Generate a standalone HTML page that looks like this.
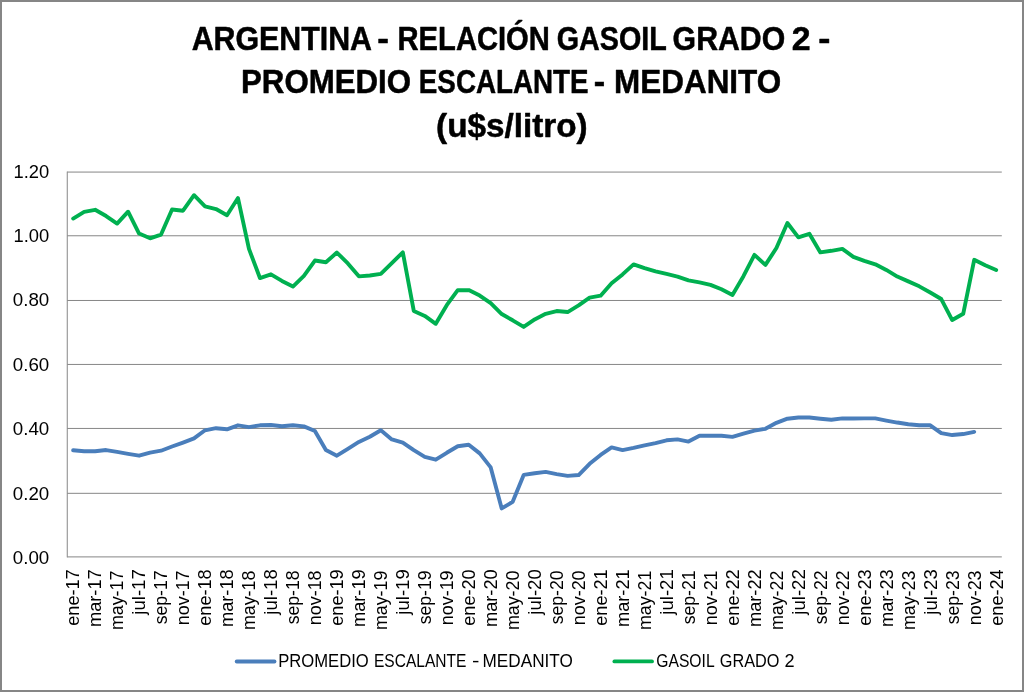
<!DOCTYPE html>
<html lang="es">
<head>
<meta charset="utf-8">
<title>ARGENTINA - RELACIÓN GASOIL GRADO 2 - PROMEDIO ESCALANTE - MEDANITO</title>
<style>
html,body{margin:0;padding:0;background:#fff;}
body{width:1024px;height:692px;overflow:hidden;}
svg{display:block;}
text{font-family:"Liberation Sans",sans-serif;fill:#000;}
.t{font-weight:bold;font-size:33.0px;stroke:#000;stroke-width:0.5px;stroke-linejoin:round;}
.a{font-size:17.7px;}
</style>
</head>
<body>
<svg width="1024" height="692" viewBox="0 0 1024 692">
<rect x="0" y="0" width="1024" height="692" fill="#fff"/>
<rect x="1" y="1" width="1022" height="690" fill="none" stroke="#868686" stroke-width="2"/>
<text class="t" id="t1" y="49.90"><tspan id="t1w0" x="191.63" textLength="179.30" lengthAdjust="spacingAndGlyphs">ARGENTINA</tspan> <tspan id="t1w1" x="377.38" textLength="11.69" lengthAdjust="spacingAndGlyphs">-</tspan> <tspan id="t1w2" x="397.55" textLength="152.33" lengthAdjust="spacingAndGlyphs">RELACIÓN</tspan> <tspan id="t1w3" x="556.81" textLength="109.51" lengthAdjust="spacingAndGlyphs">GASOIL</tspan> <tspan id="t1w4" x="672.61" textLength="112.55" lengthAdjust="spacingAndGlyphs">GRADO</tspan> <tspan id="t1w5" x="791.69" textLength="18.83" lengthAdjust="spacingAndGlyphs">2</tspan> <tspan id="t1w6" x="818.38" textLength="12.16" lengthAdjust="spacingAndGlyphs">-</tspan></text>
<text class="t" id="t2" y="93.00"><tspan id="t2w0" x="241.02" textLength="170.01" lengthAdjust="spacingAndGlyphs">PROMEDIO</tspan> <tspan id="t2w1" x="418.85" textLength="169.76" lengthAdjust="spacingAndGlyphs">ESCALANTE</tspan> <tspan id="t2w2" x="593.79" textLength="11.40" lengthAdjust="spacingAndGlyphs">-</tspan> <tspan id="t2w3" x="614.12" textLength="167.03" lengthAdjust="spacingAndGlyphs">MEDANITO</tspan></text>
<text class="t" id="t3" y="136.50"><tspan id="t3w0" x="436.09" textLength="151.52" lengthAdjust="spacingAndGlyphs">(u$s/litro)</tspan></text>
<g stroke="#868686" stroke-width="1" fill="none">
<line x1="67.25" y1="172.07" x2="1001.8" y2="172.07"/>
<line x1="67.25" y1="235.77" x2="1001.8" y2="235.77"/>
<line x1="67.25" y1="300.48" x2="1001.8" y2="300.48"/>
<line x1="67.25" y1="364.44" x2="1001.8" y2="364.44"/>
<line x1="67.25" y1="428.44" x2="1001.8" y2="428.44"/>
<line x1="67.25" y1="493.32" x2="1001.8" y2="493.32"/>
<line x1="67.25" y1="556.9" x2="1001.8" y2="556.9"/>
<line x1="67.25" y1="171.57" x2="67.25" y2="557.4"/>
</g>
<text class="a" id="y0" x="13.44" y="177.55" textLength="35.74" lengthAdjust="spacingAndGlyphs">1.20</text>
<text class="a" id="y1" x="13.44" y="242.10" textLength="35.74" lengthAdjust="spacingAndGlyphs">1.00</text>
<text class="a" id="y2" x="12.78" y="306.00" textLength="36.49" lengthAdjust="spacingAndGlyphs">0.80</text>
<text class="a" id="y3" x="12.78" y="370.90" textLength="36.49" lengthAdjust="spacingAndGlyphs">0.60</text>
<text class="a" id="y4" x="12.78" y="434.90" textLength="36.49" lengthAdjust="spacingAndGlyphs">0.40</text>
<text class="a" id="y5" x="12.78" y="499.60" textLength="36.49" lengthAdjust="spacingAndGlyphs">0.20</text>
<text class="a" id="y6" x="12.78" y="563.50" textLength="36.49" lengthAdjust="spacingAndGlyphs">0.00</text>
<text class="a" id="x0" transform="translate(79.10,569.30) rotate(-90)" text-anchor="end" textLength="56.50" lengthAdjust="spacingAndGlyphs">ene-17</text>
<text class="a" id="x1" transform="translate(101.10,569.30) rotate(-90)" text-anchor="end" textLength="57.75" lengthAdjust="spacingAndGlyphs">mar-17</text>
<text class="a" id="x2" transform="translate(123.10,570.60) rotate(-90)" text-anchor="end" textLength="59.50" lengthAdjust="spacingAndGlyphs">may-17</text>
<text class="a" id="x3" transform="translate(145.10,569.30) rotate(-90)" text-anchor="end" textLength="45.35" lengthAdjust="spacingAndGlyphs">jul-17</text>
<text class="a" id="x4" transform="translate(167.10,570.40) rotate(-90)" text-anchor="end" textLength="53.90" lengthAdjust="spacingAndGlyphs">sep-17</text>
<text class="a" id="x5" transform="translate(189.10,570.40) rotate(-90)" text-anchor="end" textLength="54.90" lengthAdjust="spacingAndGlyphs">nov-17</text>
<text class="a" id="x6" transform="translate(211.10,569.30) rotate(-90)" text-anchor="end" textLength="56.50" lengthAdjust="spacingAndGlyphs">ene-18</text>
<text class="a" id="x7" transform="translate(233.10,569.30) rotate(-90)" text-anchor="end" textLength="57.75" lengthAdjust="spacingAndGlyphs">mar-18</text>
<text class="a" id="x8" transform="translate(255.10,570.60) rotate(-90)" text-anchor="end" textLength="59.50" lengthAdjust="spacingAndGlyphs">may-18</text>
<text class="a" id="x9" transform="translate(277.10,569.30) rotate(-90)" text-anchor="end" textLength="45.35" lengthAdjust="spacingAndGlyphs">jul-18</text>
<text class="a" id="x10" transform="translate(299.10,570.40) rotate(-90)" text-anchor="end" textLength="53.90" lengthAdjust="spacingAndGlyphs">sep-18</text>
<text class="a" id="x11" transform="translate(321.10,570.40) rotate(-90)" text-anchor="end" textLength="54.90" lengthAdjust="spacingAndGlyphs">nov-18</text>
<text class="a" id="x12" transform="translate(343.10,569.30) rotate(-90)" text-anchor="end" textLength="56.50" lengthAdjust="spacingAndGlyphs">ene-19</text>
<text class="a" id="x13" transform="translate(365.10,569.30) rotate(-90)" text-anchor="end" textLength="57.75" lengthAdjust="spacingAndGlyphs">mar-19</text>
<text class="a" id="x14" transform="translate(387.10,570.60) rotate(-90)" text-anchor="end" textLength="59.50" lengthAdjust="spacingAndGlyphs">may-19</text>
<text class="a" id="x15" transform="translate(409.10,569.30) rotate(-90)" text-anchor="end" textLength="45.35" lengthAdjust="spacingAndGlyphs">jul-19</text>
<text class="a" id="x16" transform="translate(431.10,570.40) rotate(-90)" text-anchor="end" textLength="53.90" lengthAdjust="spacingAndGlyphs">sep-19</text>
<text class="a" id="x17" transform="translate(453.10,570.40) rotate(-90)" text-anchor="end" textLength="54.90" lengthAdjust="spacingAndGlyphs">nov-19</text>
<text class="a" id="x18" transform="translate(475.10,569.30) rotate(-90)" text-anchor="end" textLength="56.50" lengthAdjust="spacingAndGlyphs">ene-20</text>
<text class="a" id="x19" transform="translate(497.10,569.30) rotate(-90)" text-anchor="end" textLength="57.75" lengthAdjust="spacingAndGlyphs">mar-20</text>
<text class="a" id="x20" transform="translate(519.10,570.60) rotate(-90)" text-anchor="end" textLength="59.50" lengthAdjust="spacingAndGlyphs">may-20</text>
<text class="a" id="x21" transform="translate(541.10,569.30) rotate(-90)" text-anchor="end" textLength="45.35" lengthAdjust="spacingAndGlyphs">jul-20</text>
<text class="a" id="x22" transform="translate(563.10,570.40) rotate(-90)" text-anchor="end" textLength="53.90" lengthAdjust="spacingAndGlyphs">sep-20</text>
<text class="a" id="x23" transform="translate(585.10,570.40) rotate(-90)" text-anchor="end" textLength="54.90" lengthAdjust="spacingAndGlyphs">nov-20</text>
<text class="a" id="x24" transform="translate(607.10,569.30) rotate(-90)" text-anchor="end" textLength="56.50" lengthAdjust="spacingAndGlyphs">ene-21</text>
<text class="a" id="x25" transform="translate(629.10,569.30) rotate(-90)" text-anchor="end" textLength="57.75" lengthAdjust="spacingAndGlyphs">mar-21</text>
<text class="a" id="x26" transform="translate(651.10,570.60) rotate(-90)" text-anchor="end" textLength="59.50" lengthAdjust="spacingAndGlyphs">may-21</text>
<text class="a" id="x27" transform="translate(673.10,569.30) rotate(-90)" text-anchor="end" textLength="45.35" lengthAdjust="spacingAndGlyphs">jul-21</text>
<text class="a" id="x28" transform="translate(695.10,570.40) rotate(-90)" text-anchor="end" textLength="53.90" lengthAdjust="spacingAndGlyphs">sep-21</text>
<text class="a" id="x29" transform="translate(717.10,570.40) rotate(-90)" text-anchor="end" textLength="54.90" lengthAdjust="spacingAndGlyphs">nov-21</text>
<text class="a" id="x30" transform="translate(739.10,569.30) rotate(-90)" text-anchor="end" textLength="56.50" lengthAdjust="spacingAndGlyphs">ene-22</text>
<text class="a" id="x31" transform="translate(761.10,569.30) rotate(-90)" text-anchor="end" textLength="57.75" lengthAdjust="spacingAndGlyphs">mar-22</text>
<text class="a" id="x32" transform="translate(783.10,570.60) rotate(-90)" text-anchor="end" textLength="59.50" lengthAdjust="spacingAndGlyphs">may-22</text>
<text class="a" id="x33" transform="translate(805.10,569.30) rotate(-90)" text-anchor="end" textLength="45.35" lengthAdjust="spacingAndGlyphs">jul-22</text>
<text class="a" id="x34" transform="translate(827.10,570.40) rotate(-90)" text-anchor="end" textLength="53.90" lengthAdjust="spacingAndGlyphs">sep-22</text>
<text class="a" id="x35" transform="translate(849.10,570.40) rotate(-90)" text-anchor="end" textLength="54.90" lengthAdjust="spacingAndGlyphs">nov-22</text>
<text class="a" id="x36" transform="translate(871.10,569.30) rotate(-90)" text-anchor="end" textLength="56.50" lengthAdjust="spacingAndGlyphs">ene-23</text>
<text class="a" id="x37" transform="translate(893.10,569.30) rotate(-90)" text-anchor="end" textLength="57.75" lengthAdjust="spacingAndGlyphs">mar-23</text>
<text class="a" id="x38" transform="translate(915.10,570.60) rotate(-90)" text-anchor="end" textLength="59.50" lengthAdjust="spacingAndGlyphs">may-23</text>
<text class="a" id="x39" transform="translate(937.10,569.30) rotate(-90)" text-anchor="end" textLength="45.35" lengthAdjust="spacingAndGlyphs">jul-23</text>
<text class="a" id="x40" transform="translate(959.10,570.40) rotate(-90)" text-anchor="end" textLength="53.90" lengthAdjust="spacingAndGlyphs">sep-23</text>
<text class="a" id="x41" transform="translate(981.10,570.40) rotate(-90)" text-anchor="end" textLength="54.90" lengthAdjust="spacingAndGlyphs">nov-23</text>
<text class="a" id="x42" transform="translate(1003.10,569.30) rotate(-90)" text-anchor="end" textLength="56.50" lengthAdjust="spacingAndGlyphs">ene-24</text>
<polyline points="73.15,450.30 84.14,451.30 95.13,451.30 106.12,450.05 117.10,451.90 128.09,453.80 139.08,455.70 150.07,452.55 161.06,450.70 172.05,446.55 183.04,442.60 194.02,438.40 205.01,430.30 216.00,428.20 226.99,429.30 237.98,425.30 248.97,427.20 259.95,425.30 270.94,425.05 281.93,426.30 292.92,425.30 303.91,426.40 314.90,431.05 325.89,450.05 336.87,455.70 347.86,448.80 358.85,441.90 369.84,436.70 380.83,430.30 391.82,439.40 402.81,442.55 413.79,450.10 424.78,456.90 435.77,459.70 446.76,452.80 457.75,446.30 468.74,444.70 479.72,453.40 490.71,467.40 501.70,508.40 512.69,501.80 523.68,474.90 534.67,473.20 545.66,471.90 556.64,474.05 567.63,475.90 578.62,475.05 589.61,463.80 600.60,454.90 611.59,447.40 622.57,450.05 633.56,447.90 644.55,445.30 655.54,443.05 666.53,440.30 677.52,439.40 688.51,441.55 699.49,435.70 710.48,435.70 721.47,435.70 732.46,436.90 743.45,433.70 754.44,430.70 765.43,428.80 776.41,422.80 787.40,418.70 798.39,417.55 809.38,417.55 820.37,418.70 831.36,419.70 842.35,418.40 853.33,418.55 864.32,418.40 875.31,418.40 886.30,420.55 897.29,422.55 908.28,424.30 919.26,425.30 930.25,425.30 941.24,433.20 952.23,435.05 963.22,434.05 974.21,431.90" fill="none" stroke="#4A7EBB" stroke-width="3.9" stroke-linecap="round" stroke-linejoin="round"/>
<polyline points="73.15,218.55 84.14,211.80 95.13,209.80 106.12,216.05 117.10,223.55 128.09,211.70 139.08,233.55 150.07,238.30 161.06,234.55 172.05,209.55 183.04,210.70 194.02,195.20 205.01,206.30 216.00,209.05 226.99,215.30 237.98,198.05 248.97,248.90 259.95,278.05 270.94,274.30 281.93,280.90 292.92,286.55 303.91,275.90 314.90,260.55 325.89,262.30 336.87,252.55 347.86,263.40 358.85,276.35 369.84,275.55 380.83,273.90 391.82,263.05 402.81,252.30 413.79,310.90 424.78,315.90 435.77,323.80 446.76,305.20 457.75,290.20 468.74,290.10 479.72,295.60 490.71,303.20 501.70,314.05 512.69,320.30 523.68,326.90 534.67,319.40 545.66,313.80 556.64,311.05 567.63,312.05 578.62,305.40 589.61,297.55 600.60,295.70 611.59,283.20 622.57,274.40 633.56,264.40 644.55,268.20 655.54,271.30 666.53,273.80 677.52,276.55 688.51,280.30 699.49,282.40 710.48,284.90 721.47,289.30 732.46,294.90 743.45,276.20 754.44,254.90 765.43,264.90 776.41,248.05 787.40,223.05 798.39,237.40 809.38,233.80 820.37,252.40 831.36,250.80 842.35,248.90 853.33,256.80 864.32,260.80 875.31,264.30 886.30,269.90 897.29,276.55 908.28,281.35 919.26,286.35 930.25,292.55 941.24,299.05 952.23,320.05 963.22,313.80 974.21,259.80 985.20,265.30 996.18,270.05" fill="none" stroke="#00B050" stroke-width="3.9" stroke-linecap="round" stroke-linejoin="round"/>
<line x1="236.7" y1="661.5" x2="274.5" y2="661.5" stroke="#4A7EBB" stroke-width="3.8" stroke-linecap="round"/>
<text class="a" id="l1" y="666.90"><tspan id="l1w0" x="278.15" textLength="90.56" lengthAdjust="spacingAndGlyphs">PROMEDIO</tspan> <tspan id="l1w1" x="373.98" textLength="92.48" lengthAdjust="spacingAndGlyphs">ESCALANTE</tspan> <tspan id="l1w2" x="472.02" textLength="7.41" lengthAdjust="spacingAndGlyphs">-</tspan> <tspan id="l1w3" x="482.57" textLength="90.26" lengthAdjust="spacingAndGlyphs">MEDANITO</tspan></text>
<line x1="614.4" y1="661.45" x2="652.0" y2="661.45" stroke="#00B050" stroke-width="3.8" stroke-linecap="round"/>
<text class="a" id="l2" y="666.90"><tspan id="l2w0" x="656.28" textLength="57.78" lengthAdjust="spacingAndGlyphs">GASOIL</tspan> <tspan id="l2w1" x="719.84" textLength="59.65" lengthAdjust="spacingAndGlyphs">GRADO</tspan> <tspan id="l2w2" x="784.54" textLength="10.09" lengthAdjust="spacingAndGlyphs">2</tspan></text>
</svg>
</body>
</html>
